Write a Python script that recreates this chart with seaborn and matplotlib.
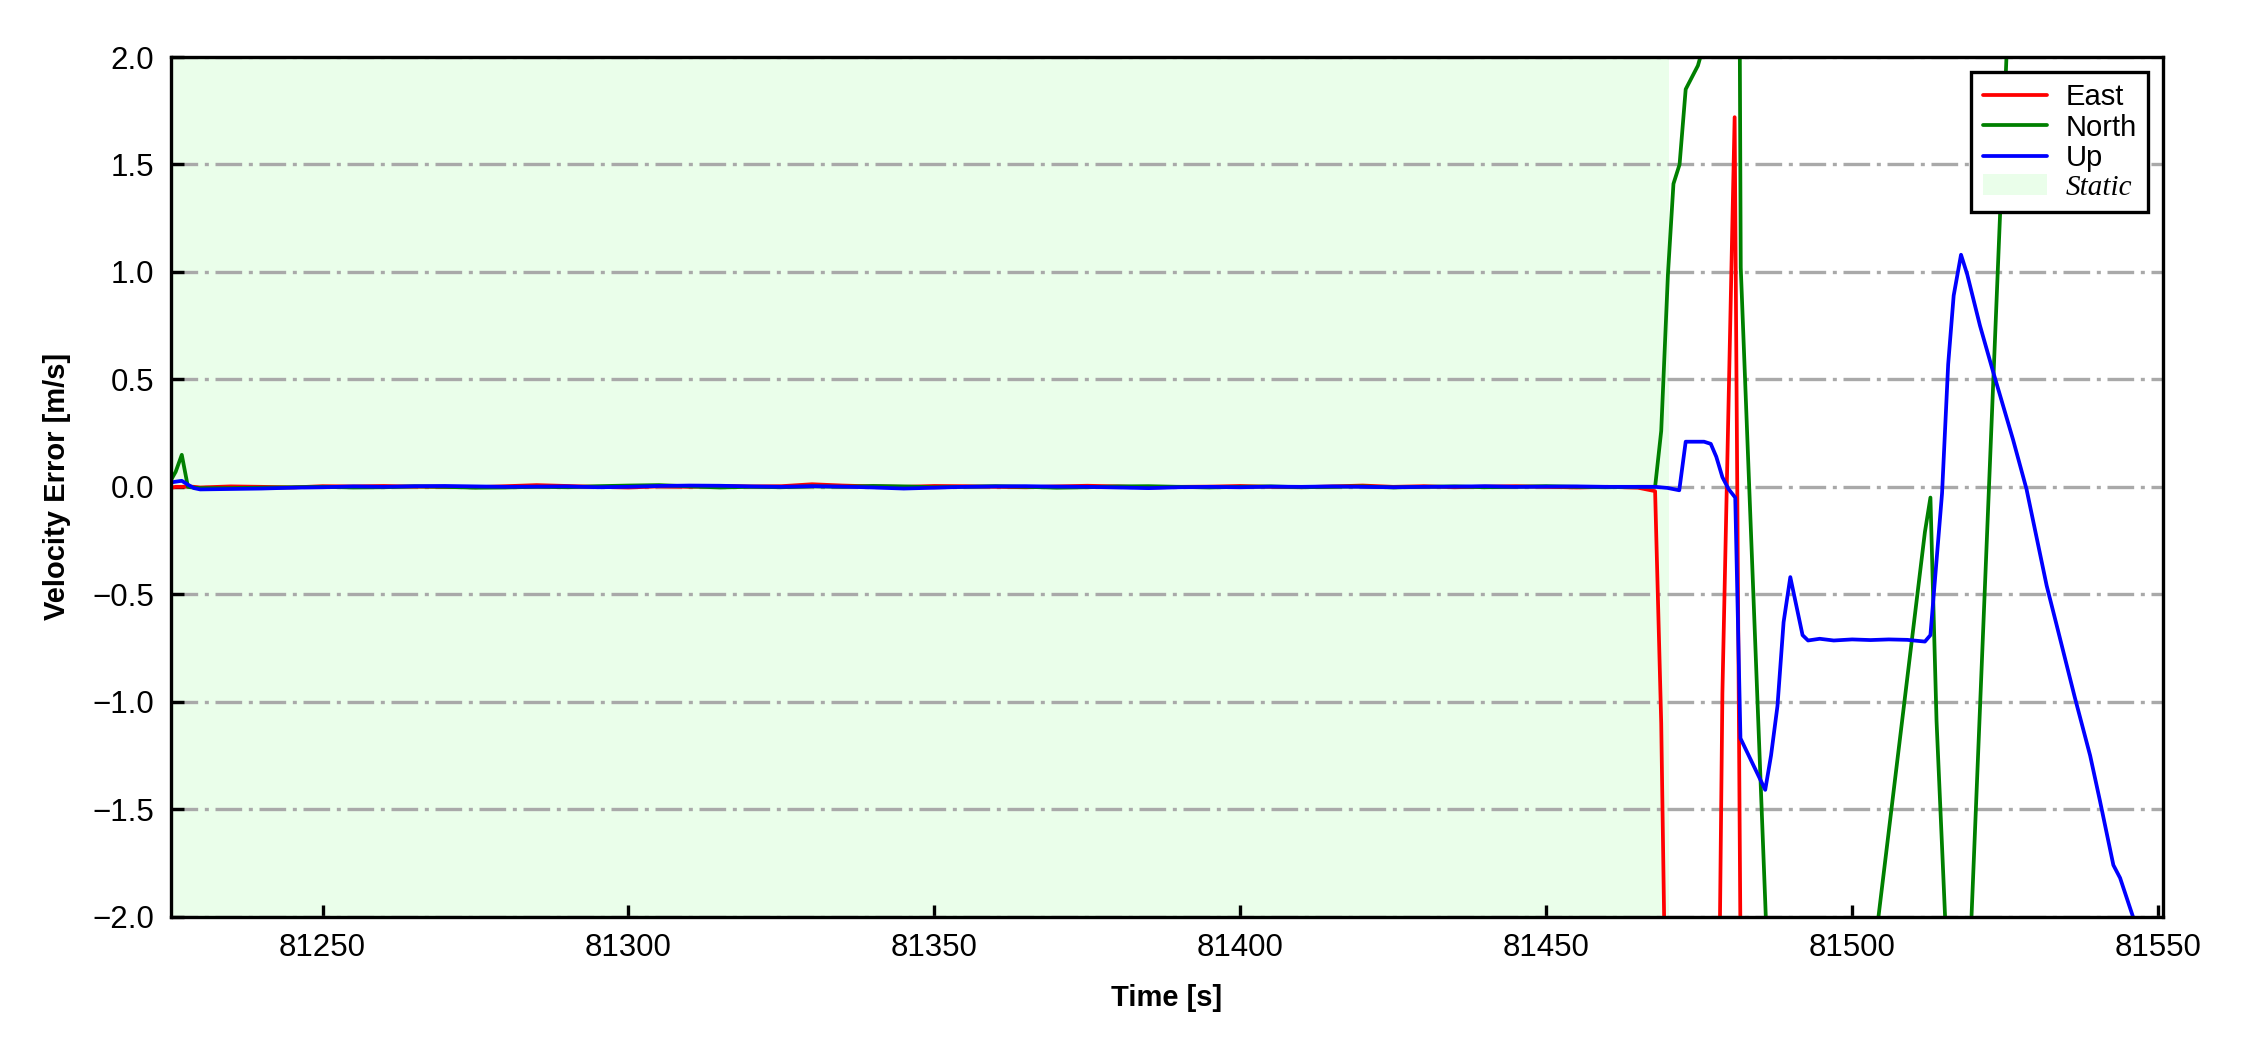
import numpy as np
import pandas as pd
import matplotlib
matplotlib.use("Agg")
import matplotlib.pyplot as plt
import seaborn as sns
from matplotlib.lines import Line2D
from matplotlib.patches import Patch
from matplotlib.ticker import MultipleLocator

# -----------------------------
# data
# -----------------------------
# first few seconds (small north spike at start)
time_start = [81225.2, 81226.0, 81227.0, 81228.0, 81229.0, 81230.0]
east_start = [-0.005, 0.0, 0.0, 0.002, 0.0, -0.003]
north_start = [0.03, 0.07, 0.149, 0.0, -0.004, -0.006]
up_start = [0.02, 0.024, 0.028, 0.01, -0.006, -0.012]

# static period, sampled every 5 s
time_static = list(range(81235, 81466, 5))
east_static = [0.002, 0.0, -0.003, 0.003, 0.002, 0.004, 0.001, 0.0, -0.002, 0.003,
               0.008, 0.004, 0.0, -0.003, 0.002, 0.0, 0.004, 0.002, 0.003, 0.012,
               0.006, 0.002, 0.0, 0.004, 0.003, 0.0, -0.002, 0.002, 0.005, 0.002,
               -0.003, 0.0, 0.001, 0.004, 0.0, -0.002, 0.002, 0.006, 0.0, 0.003,
               -0.002, 0.001, 0.003, 0.0, -0.003, 0.0, -0.004]
north_static = [-0.006, -0.004, -0.002, 0.0, -0.003, -0.002, 0.002, 0.0, -0.004, -0.003,
                0.0, -0.002, 0.003, 0.006, 0.008, 0.002, -0.003, 0.0, -0.002, 0.002,
                0.0, 0.004, 0.002, -0.002, 0.0, 0.003, 0.0, -0.004, -0.002, 0.002,
                0.003, 0.0, -0.003, 0.0, 0.002, -0.002, 0.0, 0.002, -0.003, 0.0,
                0.002, -0.002, 0.0, 0.003, 0.0, -0.002, 0.0]
up_static = [-0.01, -0.008, -0.004, -0.002, 0.002, 0.0, 0.003, 0.004, 0.002, 0.0,
             0.001, 0.002, -0.002, 0.0, 0.004, 0.006, 0.005, 0.002, 0.0, 0.003,
             0.001, -0.003, -0.008, -0.004, 0.0, 0.002, 0.003, 0.001, 0.0, -0.003,
             -0.006, -0.002, 0.0, -0.002, 0.001, 0.0, 0.002, 0.0, -0.002, 0.0,
             0.001, 0.003, 0.0, 0.001, 0.002, 0.0, 0.0]

# dynamic part (values outside +-2 are clipped by the axis limits)
east_t = [81467.8, 81468.8, 81469.8, 81472.0, 81475.0, 81477.8, 81478.8, 81479.8,
          81480.8, 81481.8, 81485.0, 81500.0, 81520.0, 81540.0, 81550.8]
east_v = [-0.02, -1.1, -3.0, -4.0, -4.2, -3.6, -0.96, 0.38,
          1.72, -2.3, -3.5, -4.0, -3.8, -4.2, -4.0]

north_t = [81467.8, 81468.8, 81469.9, 81470.8, 81471.8, 81472.8, 81474.8, 81475.8,
           81477.8, 81480.8, 81481.8, 81485.8, 81486.8, 81490.0, 81500.0, 81503.8,
           81511.9, 81512.8, 81513.8, 81514.8, 81515.8, 81518.8, 81525.8, 81526.8,
           81535.0, 81550.8]
north_v = [0.0, 0.26, 0.99, 1.41, 1.50, 1.85, 1.96, 2.06,
           4.0, 7.5, 1.02, -1.93, -2.7, -3.5, -3.2, -2.12,
           -0.21, -0.05, -1.09, -1.74, -2.4, -2.5, 2.4, 3.2,
           4.0, 4.5]

up_t = [81467.8, 81469.8, 81471.75, 81472.8, 81475.8, 81476.9, 81477.8, 81478.8,
        81479.8, 81480.9, 81481.75, 81485.8, 81486.75, 81487.8, 81488.8, 81489.9,
        81491.9, 81492.8, 81494.7, 81497.0, 81500.0, 81503.0, 81506.0, 81509.0,
        81511.9, 81512.8, 81514.7, 81515.7, 81516.6, 81517.8, 81518.8, 81520.9,
        81523.0, 81526.3, 81528.5, 81531.8, 81533.4, 81536.4, 81538.9, 81540.5,
        81542.7, 81543.8, 81545.9, 81546.9, 81550.8]
up_v = [0.0, -0.005, -0.016, 0.21, 0.21, 0.20, 0.14, 0.045,
        -0.01, -0.05, -1.17, -1.41, -1.25, -1.02, -0.63, -0.42,
        -0.69, -0.715, -0.707, -0.715, -0.71, -0.713, -0.71, -0.712,
        -0.72, -0.69, -0.03, 0.57, 0.89, 1.08, 0.99, 0.75,
        0.54, 0.22, -0.01, -0.46, -0.64, -0.98, -1.25, -1.46,
        -1.76, -1.82, -2.0, -2.25, -3.0]

static_end = 81470.0
x_limits = (81225.2, 81550.8)

# -----------------------------
# build long table for seaborn
# -----------------------------
parts = []
for name, start, static, t_dyn, v_dyn in [
        ("East", east_start, east_static, east_t, east_v),
        ("North", north_start, north_static, north_t, north_v),
        ("Up", up_start, up_static, up_t, up_v)]:
    t = time_start + time_static + t_dyn
    v = start + static + v_dyn
    parts.append(pd.DataFrame({"time": t, "value": v, "component": name}))
df = pd.concat(parts, ignore_index=True)

colors = {"East": "red", "North": "green", "Up": "blue"}
shade = (0.918, 0.996, 0.918)

sns.set_style("white")
plt.rcParams["font.family"] = ["Liberation Sans", "DejaVu Sans"]
plt.rcParams["text.color"] = "black"
plt.rcParams["axes.labelcolor"] = "black"
plt.rcParams["xtick.color"] = "black"
plt.rcParams["ytick.color"] = "black"
plt.rcParams["axes.unicode_minus"] = True

fig = plt.figure(figsize=(7.5, 3.5), dpi=300)
ax = fig.add_axes([0.0759, 0.127, 0.8854, 0.8187])

ax.axvspan(x_limits[0], static_end, color=shade, lw=0, zorder=0)
sns.lineplot(data=df, x="time", y="value", hue="component", palette=colors,
             estimator=None, sort=False, linewidth=0.9, legend=False, ax=ax)

ax.set_xlim(*x_limits)
ax.set_ylim(-2.0, 2.0)
ax.xaxis.set_major_locator(MultipleLocator(50))
ax.yaxis.set_major_locator(MultipleLocator(0.5))
ax.ticklabel_format(axis="x", useOffset=False, style="plain")

ax.yaxis.grid(True, linestyle=(0, (8, 2, 1.2, 2)), color="darkgray", linewidth=0.8)
ax.xaxis.grid(False)
ax.set_axisbelow(True)

for sp in ax.spines.values():
    sp.set_color("black")
    sp.set_linewidth(0.8)
ax.tick_params(direction="in", length=3, width=0.8, labelsize=7.5, pad=4,
               top=False, right=False, bottom=True, left=True, colors="black")

ax.set_xlabel("Time [s]", fontsize=7, fontweight="bold", labelpad=5)
ax.set_ylabel("Velocity Error [m/s]", fontsize=7, fontweight="bold", labelpad=5)

handles = [Line2D([], [], color=colors[k], lw=0.9, label=k) for k in ["East", "North", "Up"]]
handles.append(Patch(facecolor=shade, edgecolor="none", label="Static"))
leg = ax.legend(handles=handles, loc="upper right", fontsize=7, frameon=True,
                fancybox=False, edgecolor="black", framealpha=1, labelspacing=0.08,
                handlelength=2.2, handletextpad=0.64, borderpad=0.4)
leg.get_frame().set_linewidth(0.8)
static_txt = leg.get_texts()[3]
static_txt.set_fontfamily(["Liberation Serif", "DejaVu Serif"])
static_txt.set_fontstyle("italic")

fig.savefig("out.png", dpi=300)
